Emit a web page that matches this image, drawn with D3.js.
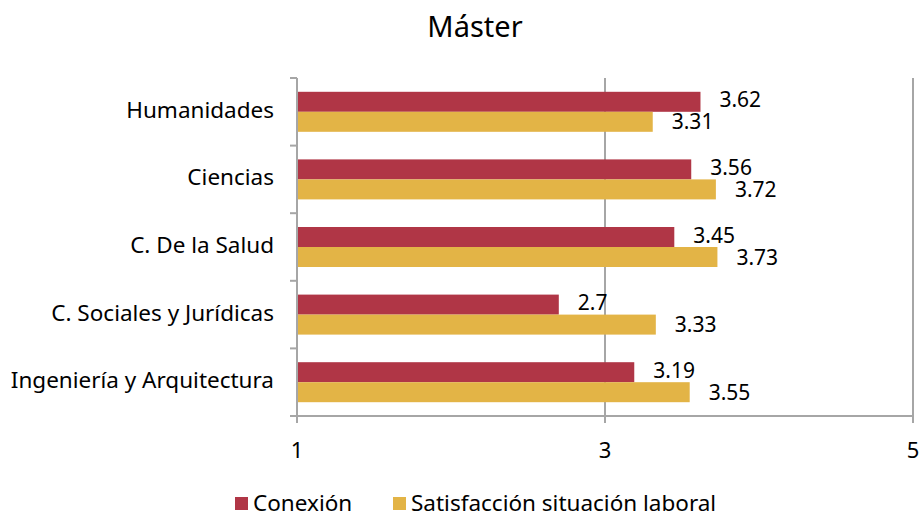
<!DOCTYPE html>
<html>
<head>
<meta charset="utf-8">
<script src="https://cdn.jsdelivr.net/npm/d3@7"></script>
<style>
  body { margin: 0; background: #fff; }
  svg text { font-family: "Noto Sans", "Open Sans", sans-serif; fill: #000; }
</style>
</head>
<body>
<svg id="graph" width="923" height="519"></svg>
<script>
// chart data
var categories = ["Humanidades", "Ciencias", "C. De la Salud", "C. Sociales y Jurídicas", "Ingeniería y Arquitectura"];
var seriesNames = ["Conexión", "Satisfacción situación laboral"];
var conexion = [3.62, 3.56, 3.45, 2.7, 3.19];
var satisfaccion = [3.31, 3.72, 3.73, 3.33, 3.55];
var xTicks = [1, 3, 5];
var colors = ["#B03646", "#E3B446"];

const svg = d3.select('#graph');
const plotLeft = 297, plotRight = 913, plotTop = 78, plotBottom = 416;

//scales
const x = d3.scaleLinear().domain([1, 5]).range([plotLeft, plotRight]);
const y = d3.scaleBand().domain(categories).range([plotTop, plotBottom]).padding(0);
const barH = 20;
const sub = d3.scaleBand().domain(seriesNames)
    .range([(y.step() - 2 * barH) / 2, (y.step() + 2 * barH) / 2]);

//title
svg.append('text').attr('x', 475).attr('y', 37).attr('text-anchor', 'middle')
    .style('font-size', '29px').text('Máster');

//vertical gridlines (skip the axis line at 1)
svg.selectAll('.grid').data(xTicks.slice(1)).join('line')
    .attr('class', 'grid')
    .attr('x1', d => x(d)).attr('x2', d => x(d))
    .attr('y1', plotTop).attr('y2', plotBottom + 7)
    .attr('stroke', '#A6A6A6').attr('stroke-width', 2);

//bars
var rows = categories.map((c, i) => ({ cat: c, values: [conexion[i], satisfaccion[i]] }));
const grp = svg.selectAll('.row').data(rows).join('g')
    .attr('class', 'row')
    .attr('transform', d => `translate(0,${y(d.cat)})`);

grp.selectAll('rect').data(d => d.values.map((v, j) => ({ s: seriesNames[j], v: v, j: j })))
    .join('rect')
    .attr('x', x(1))
    .attr('y', d => sub(d.s))
    .attr('width', d => x(d.v) - x(1))
    .attr('height', sub.bandwidth())
    .attr('fill', d => colors[d.j]);

// labels: the first series sits a little high, the second a little low
grp.selectAll('.lbl').data(d => d.values.map((v, j) => ({ s: seriesNames[j], v: v, j: j })))
    .join('text')
    .attr('class', 'lbl')
    .attr('x', d => x(d.v) + 19)
    .attr('y', d => sub(d.s) + sub.bandwidth() / 2 + (d.j === 0 ? 0 : 2))
    .attr('dominant-baseline', 'middle')
    .style('font-size', '21px')
    .text(d => d.v);

//y axis line and ticks at category boundaries
svg.append('line').attr('x1', plotLeft).attr('x2', plotLeft).attr('y1', plotTop).attr('y2', plotBottom + 7)
    .attr('stroke', '#A6A6A6').attr('stroke-width', 2);
var bounds = categories.map(c => y(c)).concat([plotBottom]);
svg.selectAll('.ytick').data(bounds).join('line')
    .attr('class', 'ytick')
    .attr('x1', plotLeft - 7).attr('x2', plotLeft)
    .attr('y1', d => d).attr('y2', d => d)
    .attr('stroke', '#A6A6A6').attr('stroke-width', 2);

svg.selectAll('.cat').data(categories).join('text')
    .attr('class', 'cat')
    .attr('x', plotLeft - 23)
    .attr('y', d => y(d) + y.bandwidth() / 2)
    .attr('text-anchor', 'end')
    .attr('dominant-baseline', 'middle')
    .style('font-size', '22.5px')
    .text(d => d);

//x axis
svg.append('line').attr('x1', plotLeft - 7).attr('x2', plotRight).attr('y1', plotBottom).attr('y2', plotBottom)
    .attr('stroke', '#A6A6A6').attr('stroke-width', 2);
svg.selectAll('.xlbl').data(xTicks).join('text')
    .attr('class', 'xlbl')
    .attr('x', d => x(d))
    .attr('y', 452)
    .attr('text-anchor', 'middle')
    .attr('dominant-baseline', 'middle')
    .style('font-size', '22px')
    .text(d => d);

//legend
var legendX = [235, 393];
const lg = svg.selectAll('.leg').data(seriesNames).join('g')
    .attr('class', 'leg')
    .attr('transform', (d, i) => `translate(${legendX[i]},497)`);
lg.append('rect').attr('width', 13).attr('height', 13).attr('fill', (d, i) => colors[i]);
lg.append('text').attr('x', 18).attr('y', 8).attr('dominant-baseline', 'middle')
    .style('font-size', '22.5px').text(d => d);
</script>
</body>
</html>
